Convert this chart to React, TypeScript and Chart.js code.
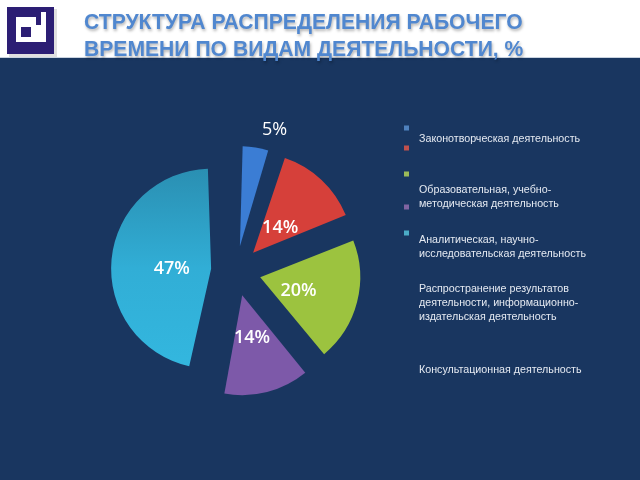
import React, { useEffect, useRef } from "react";
import { Chart, registerables } from "chart.js";

Chart.register(...registerables);

// ---- data ----
const titleLines = ["СТРУКТУРА РАСПРЕДЕЛЕНИЯ РАБОЧЕГО", "ВРЕМЕНИ ПО ВИДАМ ДЕЯТЕЛЬНОСТИ, %"];
const categories = [
  "Законотворческая деятельность",
  "Образовательная, учебно-методическая деятельность",
  "Аналитическая, научно-исследовательская деятельность",
  "Распространение результатов деятельности, информационно-издательская деятельность",
  "Консультационная деятельность",
];
const legendLines = [
  ["Законотворческая деятельность"],
  ["Образовательная, учебно-", "методическая деятельность"],
  ["Аналитическая, научно-", "исследовательская деятельность"],
  ["Распространение результатов", "деятельности, информационно-", "издательская деятельность"],
  ["Консультационная деятельность"],
];
const shares = [5, 14, 20, 14, 47];
const sliceColors = ["#3b7dd4", "#d6403a", "#9cc33f", "#7d59a9", "#2fb0d7"];
const legendColors = ["#4f81bd", "#c0504d", "#9bbb59", "#8064a2", "#4bacc6"];

// ---- layout (legend placement, px inside canvas) ----
const legendLayout = {
  markerX: 404,
  markerSize: 5,
  markerY: [70, 90, 116, 149, 175],
  textX: 419,
  textY: [81, 132, 182, 231, 312],
  lineHeight: 14,
};

const NAVY = "#193660";
const PIE_RADIUS = 100;
const EXPLODE = 25; // visual shift of each slice, px
const ARC_OFFSET = EXPLODE * 4; // Chart.js arcs translate by offset / 4

// Chart.js enlarges wide arcs by (offset/4)*(1-sin(circumference)); compensate so all slices keep one radius
const evenRadiusPlugin = {
  id: "evenRadius",
  afterDatasetUpdate(chart: any, args: any) {
    const meta = chart.getDatasetMeta(args.index);
    meta.data.forEach((arc: any) => {
      const circ = arc.circumference;
      const fix = 1 - Math.sin(Math.min(Math.PI, circ || 0));
      arc.outerRadius = Math.max(PIE_RADIUS - EXPLODE * fix, 0);
    });
  },
};

const pieLabelPlugin = {
  id: "pieLabels",
  afterDatasetsDraw(chart: any) {
    const ctx = chart.ctx;
    const meta = chart.getDatasetMeta(0);
    ctx.save();
    ctx.fillStyle = "#ffffff";
    ctx.textBaseline = "middle";
    meta.data.forEach((arc: any, i: number) => {
      const v = shares[i];
      const text = v + "%";
      const mid = (arc.startAngle + arc.endAngle) / 2;
      if (v < 10) {
        const r = PIE_RADIUS + EXPLODE + 15;
        const x = arc.x + Math.cos(mid) * r;
        const y = arc.y + Math.sin(mid) * r;
        ctx.font = "400 18px 'Open Sans'";
        ctx.textAlign = "left";
        ctx.fillText(text, x + 4, y - 3);
      } else {
        const r = PIE_RADIUS / 2 + EXPLODE * 0.5 + 2;
        ctx.font = "600 18px 'Open Sans'";
        ctx.textAlign = "center";
        ctx.fillText(text, arc.x + Math.cos(mid) * r, arc.y + Math.sin(mid) * r + 4);
      }
    });
    ctx.restore();
  },
};

const customLegendPlugin = {
  id: "customLegend",
  afterDraw(chart: any) {
    const ctx = chart.ctx;
    const L = legendLayout;
    ctx.save();
    legendColors.forEach((c, i) => {
      ctx.fillStyle = c;
      ctx.fillRect(L.markerX, L.markerY[i] - L.markerSize / 2, L.markerSize, L.markerSize);
    });
    ctx.fillStyle = "#e4e9f1";
    ctx.font = "10.7px 'Liberation Sans'";
    ctx.textAlign = "left";
    ctx.textBaseline = "middle";
    legendLines.forEach((lines, i) => {
      lines.forEach((ln, j) => {
        ctx.fillText(ln, L.textX, L.textY[i] + j * L.lineHeight);
      });
    });
    ctx.restore();
  },
};

function PieChart() {
  const ref = useRef<HTMLCanvasElement | null>(null);
  useEffect(() => {
    if (!ref.current) return;
    const chart = new Chart(ref.current, {
      type: "pie",
      data: {
        labels: categories,
        datasets: [
          {
            data: shares,
            backgroundColor: (c: any) => {
              const i = c.dataIndex;
              if (i === shares.length - 1 && c.chart.chartArea) {
                const a = c.chart.chartArea;
                const cy = (a.top + a.bottom) / 2;
                const g = c.chart.ctx.createLinearGradient(0, cy - PIE_RADIUS, 0, cy + PIE_RADIUS);
                g.addColorStop(0, "#2a8fb2");
                g.addColorStop(0.5, "#31aed6");
                g.addColorStop(1, "#33b7df");
                return g;
              }
              return sliceColors[i];
            },
            borderWidth: 0,
            offset: ARC_OFFSET,
          },
        ],
      },
      options: {
        responsive: false,
        animation: false,
        radius: PIE_RADIUS,
        layout: { padding: { left: 36, right: 204, top: 4, bottom: 0 } },
        plugins: {
          legend: { display: false },
          tooltip: { enabled: false },
          title: { display: false },
        },
      } as any,
      plugins: [evenRadiusPlugin, pieLabelPlugin, customLegendPlugin],
    });
    return () => chart.destroy();
  }, []);
  return <canvas ref={ref} width={640} height={422} style={{ display: "block", background: NAVY }} />;
}

function Logo() {
  return (
    <svg width="60" height="60" style={{ position: "absolute", left: 0, top: 0 }}>
      <rect x="9" y="9" width="48" height="48" fill="#d3d3d3" opacity="0.7" />
      <rect x="7" y="7" width="47" height="47" fill="#2c1e74" />
      <rect x="16" y="17" width="27" height="25" fill="#ffffff" />
      <rect x="36" y="17" width="5" height="8" fill="#2c1e74" />
      <rect x="41" y="12" width="5" height="30" fill="#ffffff" />
      <rect x="21" y="27" width="10" height="10" fill="#2c1e74" />
    </svg>
  );
}

export default function App() {
  return (
    <div
      style={{
        position: "fixed",
        left: 0,
        top: 0,
        width: 640,
        height: 480,
        overflow: "hidden",
        background: NAVY,
      }}
    >
      <div style={{ position: "relative", height: 58, background: "#ffffff", borderBottom: "1px solid #c9d3e0", boxSizing: "border-box" }}>
        <Logo />
        <div
          style={{
            position: "absolute",
            left: 84,
            top: 8,
            fontFamily: "'Liberation Sans', Arial, sans-serif",
            fontWeight: 700,
            fontSize: 22,
            lineHeight: "27px",
            color: "#5087cf",
            textShadow: "1px 2px 3px rgba(0,0,0,0.3)",
            whiteSpace: "nowrap",
            transform: "scaleX(0.96)",
            transformOrigin: "left top",
          }}
        >
          {titleLines.map((t, i) => (
            <div key={i}>{t}</div>
          ))}
        </div>
      </div>
      <PieChart />
    </div>
  );
}
